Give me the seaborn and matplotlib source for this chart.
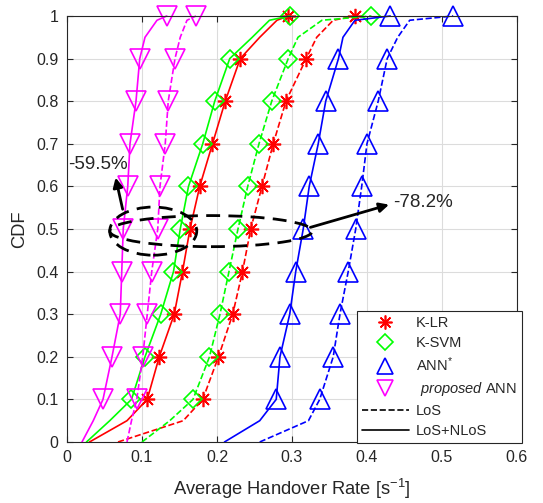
import numpy as np
import pandas as pd
import matplotlib
matplotlib.use("Agg")
import matplotlib.pyplot as plt
import seaborn as sns
from matplotlib.lines import Line2D
from matplotlib.patches import Ellipse

# CDF levels at which curve points were read
cdf = [0, 0.05, 0.1, 0.2, 0.3, 0.4, 0.5, 0.6, 0.7, 0.8, 0.9, 0.95, 0.99, 1.0]

# LoS+NLoS (solid)
klr_all  = [0.030, 0.080, 0.107, 0.123, 0.143, 0.154, 0.164, 0.177, 0.194, 0.211, 0.231, 0.257, 0.280, 0.295]
ksvm_all = [0.026, 0.057, 0.086, 0.104, 0.125, 0.142, 0.151, 0.162, 0.181, 0.197, 0.217, 0.247, 0.270, 0.297]
ann_all  = [0.210, 0.257, 0.279, 0.284, 0.297, 0.305, 0.315, 0.323, 0.335, 0.345, 0.362, 0.368, 0.384, 0.431]
prop_all = [0.020, 0.035, 0.048, 0.060, 0.071, 0.073, 0.075, 0.081, 0.084, 0.092, 0.097, 0.104, 0.120, 0.133]
# LoS (dashed)
klr_los  = [0.068, 0.155, 0.181, 0.202, 0.221, 0.234, 0.245, 0.260, 0.275, 0.292, 0.319, 0.333, 0.355, 0.384]
ksvm_los = [0.100, 0.137, 0.168, 0.190, 0.204, 0.216, 0.228, 0.241, 0.256, 0.273, 0.295, 0.308, 0.340, 0.406]
ann_los  = [0.257, 0.322, 0.337, 0.355, 0.364, 0.375, 0.385, 0.393, 0.400, 0.415, 0.427, 0.441, 0.457, 0.515]
prop_los = [0.080, 0.086, 0.093, 0.101, 0.107, 0.113, 0.121, 0.124, 0.131, 0.135, 0.144, 0.151, 0.160, 0.172]

x_ticks = [0, 0.1, 0.2, 0.3, 0.4, 0.5, 0.6]
y_ticks = [0, 0.1, 0.2, 0.3, 0.4, 0.5, 0.6, 0.7, 0.8, 0.9, 1.0]
y_tick_labels = ["0", "0.1", "0.2", "0.3", "0.4", "0.5", "0.6", "0.7", "0.8", "0.9", "1"]

sns.set_style("whitegrid")
plt.rcParams['font.family'] = ['Liberation Sans', 'DejaVu Sans']
plt.rcParams['mathtext.fontset'] = 'custom'
plt.rcParams['mathtext.rm'] = 'Liberation Sans'
plt.rcParams['mathtext.it'] = 'Liberation Sans:italic'

fig = plt.figure(figsize=(5.43, 5.03), dpi=100)
ax = fig.add_axes([0.1234, 0.1213, 0.8286, 0.8469])

mark_idx = [2, 3, 4, 5, 6, 7, 8, 9, 10, 13]
star = (8, 2, 0)
series = [
    (klr_all, 'red', star, '-', 11), (klr_los, 'red', star, '--', 11),
    (ksvm_all, '#00ff00', 'D', '-', 9), (ksvm_los, '#00ff00', 'D', '--', 9),
    (ann_all, 'blue', '^', '-', 14), (ann_los, 'blue', '^', '--', 14),
    (prop_all, 'magenta', 'v', '-', 14), (prop_los, 'magenta', 'v', '--', 14),
]
for xs, col, mk, ls, ms in series:
    df = pd.DataFrame({'x': xs, 'y': cdf})
    sns.lineplot(data=df, x='x', y='y', ax=ax, sort=False, estimator=None,
                 color=col, linestyle=ls, linewidth=1.2, marker=mk,
                 markevery=mark_idx, markersize=ms, markerfacecolor='none',
                 markeredgecolor=col, markeredgewidth=1.2, clip_on=False)

# annotations
ax.add_patch(Ellipse((0.115, 0.495), 0.116, 0.113, fill=False, ls=(0, (5, 3)), lw=2, color='black', zorder=5))
ax.add_patch(Ellipse((0.192, 0.495), 0.270, 0.073, fill=False, ls=(0, (5, 3)), lw=2, color='black', zorder=5))
ax.annotate('', xy=(0.064, 0.627), xytext=(0.075, 0.54),
            arrowprops=dict(arrowstyle='-|>', color='black', lw=2, mutation_scale=14), zorder=6)
ax.annotate('', xy=(0.433, 0.559), xytext=(0.321, 0.502),
            arrowprops=dict(arrowstyle='-|>', color='black', lw=2, mutation_scale=14), zorder=6)
ax.text(0.041, 0.652, '-59.5%', fontsize=13.5, ha='center', va='center', zorder=7)
ax.text(0.435, 0.563, '-78.2%', fontsize=13.5, ha='left', va='center', zorder=7)

ax.set_xlim(0, 0.6)
ax.set_ylim(0, 1)
ax.set_xticks(x_ticks)
ax.set_xticklabels([f"{t:g}" for t in x_ticks])
ax.set_yticks(y_ticks)
ax.set_yticklabels(y_tick_labels)
ax.tick_params(axis='both', labelsize=11.5, direction='in', length=4, color='#262626', pad=6)
ax.xaxis.set_ticks_position('both')
ax.yaxis.set_ticks_position('both')
ax.grid(True, color='#dcdcdc', lw=0.8)
for s in ax.spines.values():
    s.set_color('#262626')
    s.set_linewidth(0.8)
ax.set_xlabel('Average Handover Rate [s$^{-1}$]', fontsize=13.2, color='#262626', labelpad=8)
ax.set_ylabel('CDF', fontsize=13.2, color='#262626', labelpad=6)

handles = [
    Line2D([], [], color='red', marker=star, ls='none', ms=10, mew=1.2),
    Line2D([], [], color='#00ff00', marker='D', ls='none', ms=8, mfc='none', mew=1.2),
    Line2D([], [], color='blue', marker='^', ls='none', ms=12, mfc='none', mew=1.2),
    Line2D([], [], color='magenta', marker='v', ls='none', ms=12, mfc='none', mew=1.2),
    Line2D([], [], color='black', ls='--', lw=1.2),
    Line2D([], [], color='black', ls='-', lw=1.2),
]
labels = ['K-LR', 'K-SVM', 'ANN$^{*}$', ' $\\it{proposed}$ ANN', 'LoS', 'LoS+NLoS']
leg = ax.legend(handles, labels, loc='lower right', bbox_to_anchor=(1.011, -0.002),
                borderaxespad=0, fontsize=10.5, frameon=True, fancybox=False, framealpha=1,
                edgecolor='#262626', handlelength=3.2, borderpad=0.35, labelspacing=0.4,
                handletextpad=0.5)
leg.get_frame().set_linewidth(0.8)
leg.set_zorder(10)

fig.savefig('out.png', dpi=100)
